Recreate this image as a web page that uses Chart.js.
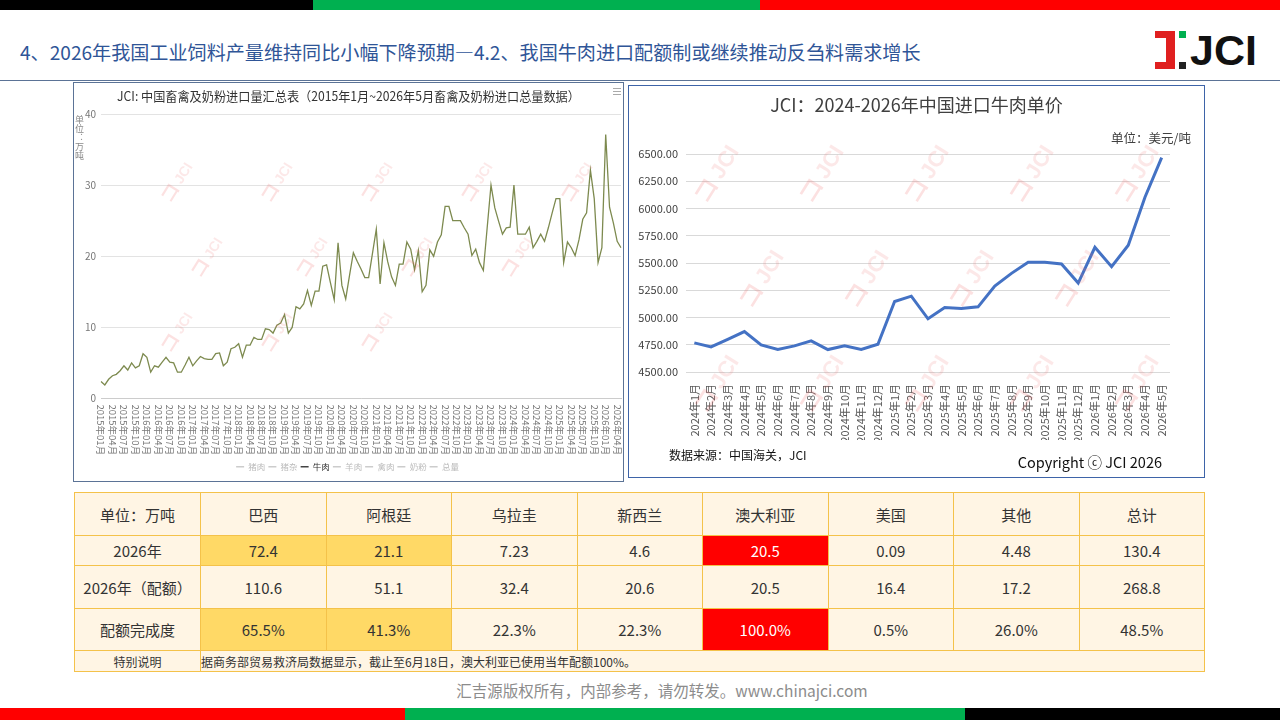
<!DOCTYPE html>
<html lang="zh">
<head>
<meta charset="UTF-8">
<title>牛肉进口配额</title>
<script src="https://cdn.jsdelivr.net/npm/chart.js"></script>
<style>
  body { margin:0; width:1280px; height:720px; position:relative; overflow:hidden; background:#fff;
         font-family:"Noto Sans CJK SC", sans-serif; }
  .abs { position:absolute; }
  .panel { position:absolute; box-sizing:border-box; }
  .wm { position:absolute; font-family:"Liberation Sans",sans-serif; font-size:22px; font-weight:bold;
        color:rgba(235,110,110,0.16); transform:rotate(-58deg); pointer-events:none; white-space:nowrap; }
  .wm b { color:rgba(240,90,90,0.18); font-size:26px; margin-right:2px; }
  .wm.small { font-size:14px; }
  .wm.small b { font-size:20px; }
  #quota { position:absolute; left:74px; top:492px; width:1131px; border-collapse:collapse; table-layout:fixed;
           font-size:15px; color:#333; }
  #quota td { border:1px solid #F4C24A; background:#FFF5E4; text-align:center; padding:0; white-space:nowrap; }
  #quota td.gold { background:#FFD966; }
  #quota td.red { background:#FF0000; color:#fff; }
  #quota tr.note td { font-size:12px; }
</style>
</head>
<body>
<!-- top / bottom colour bars -->
<div class="abs" style="left:0;top:0;width:313px;height:10px;background:#000"></div>
<div class="abs" style="left:313px;top:0;width:447px;height:10px;background:#00B050"></div>
<div class="abs" style="left:760px;top:0;width:520px;height:10px;background:#FF0000"></div>
<div class="abs" style="left:0;top:708px;width:405px;height:12px;background:#FF0000"></div>
<div class="abs" style="left:405px;top:708px;width:560px;height:12px;background:#00B050"></div>
<div class="abs" style="left:965px;top:708px;width:315px;height:12px;background:#000"></div>

<div class="abs" style="left:20px;top:40px;font-size:19.1px;line-height:24px;color:#2F5597;white-space:nowrap">4、2026年我国工业饲料产量维持同比小幅下降预期—4.2、我国牛肉进口配额制或继续推动反刍料需求增长</div>
<div class="abs" style="left:0;top:80px;width:1280px;height:1px;background:#5B7396"></div>

<!-- logo -->
<div class="abs" style="left:1155px;top:31px;width:20px;height:7px;background:#E02020"></div>
<div class="abs" style="left:1166px;top:31px;width:9px;height:38px;background:#E02020"></div>
<div class="abs" style="left:1155px;top:62px;width:20px;height:7px;background:#E02020"></div>
<div class="abs" style="left:1179px;top:31px;width:7px;height:7px;background:#00B050"></div>
<div class="abs" style="left:1179px;top:62px;width:7px;height:7px;background:#222"></div>
<div class="abs" style="left:1190px;top:26px;font-family:'Liberation Sans',sans-serif;font-weight:bold;font-size:43px;line-height:48px;color:#111">JCI</div>

<!-- left panel -->
<div class="panel" style="left:73px;top:82px;width:551px;height:400px;border:1px solid #5B7396">
  <canvas id="importChart" width="549" height="398"></canvas>
  <div class="abs" style="left:0;top:4px;width:549px;text-align:center;font-size:12.8px;line-height:18px;color:#333;white-space:nowrap;transform:scaleX(0.95)">JCI: 中国畜禽及奶粉进口量汇总表（2015年1月~2026年5月畜禽及奶粉进口总量数据）</div>
  <div class="abs" style="left:539px;top:5px;width:8px;height:1px;background:#aaa"></div>
  <div class="abs" style="left:539px;top:8px;width:8px;height:1px;background:#aaa"></div>
  <div class="abs" style="left:539px;top:11px;width:8px;height:1px;background:#aaa"></div>
  <div class="abs" style="left:0px;top:32px;writing-mode:vertical-rl;text-orientation:upright;font-size:9px;line-height:10px;color:#888">单位：万吨</div>
  <div class="wm small" style="left:80px;top:85px"><b>コ</b>JCI</div>
  <div class="wm small" style="left:180px;top:85px"><b>コ</b>JCI</div>
  <div class="wm small" style="left:280px;top:85px"><b>コ</b>JCI</div>
  <div class="wm small" style="left:380px;top:85px"><b>コ</b>JCI</div>
  <div class="wm small" style="left:480px;top:85px"><b>コ</b>JCI</div>
  <div class="wm small" style="left:110px;top:160px"><b>コ</b>JCI</div>
  <div class="wm small" style="left:215px;top:160px"><b>コ</b>JCI</div>
  <div class="wm small" style="left:320px;top:160px"><b>コ</b>JCI</div>
  <div class="wm small" style="left:420px;top:160px"><b>コ</b>JCI</div>
  <div class="wm small" style="left:80px;top:235px"><b>コ</b>JCI</div>
  <div class="wm small" style="left:180px;top:235px"><b>コ</b>JCI</div>
  <div class="wm small" style="left:280px;top:235px"><b>コ</b>JCI</div>
</div>

<!-- right panel -->
<div class="panel" style="left:628px;top:85px;width:577px;height:393px;border:1px solid #3E64A8">
  <canvas id="priceChart" width="575" height="391"></canvas>
  <div class="abs" style="left:0;top:6px;width:575px;text-align:center;font-size:18px;line-height:24px;color:#404040">JCI：2024-2026年中国进口牛肉单价</div>
  <div class="abs" style="right:13px;top:43px;font-size:12.5px;line-height:18px;color:#404040">单位：美元/吨</div>
  <div class="abs" style="left:40px;top:360px;font-size:12px;line-height:18px;color:#111">数据来源：中国海关，JCI</div>
  <div class="abs" style="right:42px;top:366px;font-size:14.5px;line-height:20px;color:#111">Copyright ⓒ JCI 2026</div>
  <div class="wm" style="left:55px;top:70px"><b>コ</b>JCI</div>
  <div class="wm" style="left:160px;top:70px"><b>コ</b>JCI</div>
  <div class="wm" style="left:265px;top:70px"><b>コ</b>JCI</div>
  <div class="wm" style="left:370px;top:70px"><b>コ</b>JCI</div>
  <div class="wm" style="left:475px;top:70px"><b>コ</b>JCI</div>
  <div class="wm" style="left:100px;top:175px"><b>コ</b>JCI</div>
  <div class="wm" style="left:205px;top:175px"><b>コ</b>JCI</div>
  <div class="wm" style="left:310px;top:175px"><b>コ</b>JCI</div>
  <div class="wm" style="left:415px;top:175px"><b>コ</b>JCI</div>
  <div class="wm" style="left:55px;top:280px"><b>コ</b>JCI</div>
  <div class="wm" style="left:160px;top:280px"><b>コ</b>JCI</div>
  <div class="wm" style="left:265px;top:280px"><b>コ</b>JCI</div>
  <div class="wm" style="left:370px;top:280px"><b>コ</b>JCI</div>
  <div class="wm" style="left:475px;top:280px"><b>コ</b>JCI</div>
</div>

<table id="quota"></table>

<div class="abs" style="left:0;top:679px;width:1324px;text-align:center;font-size:15.5px;line-height:22px;color:#8C8C8C">汇吉源版权所有，内部参考，请勿转发。www.chinajci.com</div>

<script>
// 左图：牛肉月度进口量（万吨），2015年1月 ~ 2026年5月
const beefImports = [
  2.4, 1.9, 2.7, 3.2, 3.4, 3.9, 4.6, 4.0, 5.0, 4.3, 4.6, 6.3,
  5.8, 3.7, 4.6, 4.4, 5.1, 5.8, 5.1, 5.0, 3.7, 3.7, 4.7, 5.8,
  4.6, 5.3, 5.9, 5.6, 5.5, 5.5, 6.3, 6.4, 4.6, 5.1, 7.0, 7.2,
  7.7, 5.8, 7.5, 7.5, 8.6, 8.3, 8.3, 9.8, 9.7, 9.2, 10.3, 10.6,
  11.8, 9.2, 10.0, 12.9, 12.6, 13.3, 15.2, 13.1, 15.1, 15.1, 18.6, 18.8,
  16.3, 13.9, 21.9, 15.9, 14.0, 17.3, 20.5, 19.3, 18.2, 17.0, 17.0, 20.4,
  23.8, 16.1, 21.9, 19.2, 17.1, 15.9, 18.9, 18.9, 22.0, 21.0, 18.1, 20.8,
  15.0, 15.9, 20.9, 20.0, 22.0, 23.0, 27.0, 27.0, 25.0, 25.0, 25.0, 24.0,
  23.1, 20.1, 21.0, 19.1, 18.0, 24.0, 30.0, 26.8, 24.9, 23.1, 24.0, 24.1,
  30.0, 23.1, 23.1, 23.1, 24.1, 21.2, 22.1, 23.1, 22.1, 24.0, 26.1, 28.1,
  28.1, 19.1, 22.0, 21.2, 20.1, 22.3, 25.2, 26.1, 32.1, 28.1, 19.1, 21.2,
  37.1, 26.9, 24.7, 22.1, 21.2
];
const legendNames = ['猪肉', '猪杂', '牛肉', '羊肉', '禽肉', '奶粉', '总量'];
const activeSeries = 2;

const monthLabels = [];
for (let y = 2015; y <= 2026; y++) {
  for (let m = 1; m <= 12; m++) {
    if (y === 2026 && m > 5) break;
    monthLabels.push(y + '年' + String(m).padStart(2, '0') + '月');
  }
}

// 右图：进口牛肉单价（美元/吨）
const priceMonths = [
  '2024年1月', '2024年2月', '2024年3月', '2024年4月', '2024年5月', '2024年6月',
  '2024年7月', '2024年8月', '2024年9月', '2024年10月', '2024年11月', '2024年12月',
  '2025年1月', '2025年2月', '2025年3月', '2025年4月', '2025年5月', '2025年6月',
  '2025年7月', '2025年8月', '2025年9月', '2025年10月', '2025年11月', '2025年12月',
  '2026年1月', '2026年2月', '2026年3月', '2026年4月', '2026年5月'
];
const beefPrice = [
  4767, 4730, 4800, 4871, 4749, 4706, 4740, 4786, 4706, 4740, 4706, 4755,
  5147, 5196, 4988, 5092, 5083, 5098, 5288, 5405, 5506, 5506, 5491, 5316,
  5644, 5466, 5663, 6104, 6466
];

// 表格：2026年牛肉进口配额
const quotaCountries = ['巴西', '阿根廷', '乌拉圭', '新西兰', '澳大利亚', '美国', '其他', '总计'];
const imports2026 = ['72.4', '21.1', '7.23', '4.6', '20.5', '0.09', '4.48', '130.4'];
const quota2026 = ['110.6', '51.1', '32.4', '20.6', '20.5', '16.4', '17.2', '268.8'];
const quotaUsed = ['65.5%', '41.3%', '22.3%', '22.3%', '100.0%', '0.5%', '26.0%', '48.5%'];
const noteText = '据商务部贸易救济局数据显示，截止至6月18日，澳大利亚已使用当年配额100%。';

Chart.defaults.font.family = '"Noto Sans CJK SC", sans-serif';

const oliveLine = '#7D8A4F';

// 左图 x 轴标签：每三个月一个，竖排自上而下
const verticalMonthTicks = {
  id: 'verticalMonthTicks',
  afterDraw(chart) {
    const xs = chart.scales.x;
    const ctx = chart.ctx;
    ctx.save();
    ctx.font = '9.5px "Noto Sans CJK SC"';
    ctx.fillStyle = '#777';
    ctx.textAlign = 'left';
    ctx.textBaseline = 'middle';
    for (let i = 0; i < monthLabels.length; i += 3) {
      ctx.save();
      ctx.translate(xs.getPixelForValue(i), xs.top + 6);
      ctx.rotate(Math.PI / 2);
      ctx.fillText(monthLabels[i], 0, 0);
      ctx.restore();
    }
    ctx.restore();
  }
};

new Chart(document.getElementById('importChart'), {
  type: 'line',
  data: {
    labels: monthLabels,
    datasets: [{
      label: legendNames[activeSeries],
      data: beefImports,
      borderColor: oliveLine,
      borderWidth: 1.3,
      pointRadius: 0,
      tension: 0
    }]
  },
  options: {
    responsive: false,
    animation: false,
    layout: { padding: { top: 31, right: 2, bottom: 0, left: 0 } },
    plugins: {
      tooltip: { enabled: false },
      legend: {
        position: 'bottom',
        onClick: null,
        labels: {
          usePointStyle: true,
          pointStyleWidth: 8,
          padding: 3,
          font: { size: 8.5 },
          generateLabels: () => legendNames.map((name, i) => ({
            text: name,
            fillStyle: i === activeSeries ? '#444' : '#ccc',
            strokeStyle: i === activeSeries ? '#444' : '#ccc',
            fontColor: i === activeSeries ? '#333' : '#bbb',
            lineWidth: 1.5,
            pointStyle: 'line',
            hidden: false,
            datasetIndex: 0
          }))
        }
      }
    },
    scales: {
      x: {
        ticks: { display: false },
        grid: { display: false },
        border: { color: '#ccc' },
        afterFit(scale) { scale.height = 61; }
      },
      y: {
        min: 0,
        max: 40,
        ticks: { stepSize: 10, color: '#777', font: { size: 10 }, padding: 5 },
        grid: { color: '#e3e3e3', drawTicks: false },
        border: { display: false },
        afterFit(scale) { scale.width = 27; }
      }
    }
  },
  plugins: [verticalMonthTicks]
});

new Chart(document.getElementById('priceChart'), {
  type: 'line',
  data: {
    labels: priceMonths,
    datasets: [{
      data: beefPrice,
      borderColor: '#4472C4',
      borderWidth: 3,
      pointRadius: 0,
      tension: 0
    }]
  },
  options: {
    responsive: false,
    animation: false,
    layout: { padding: { top: 68, right: 34, bottom: 37, left: 0 } },
    plugins: { legend: { display: false }, tooltip: { enabled: false } },
    scales: {
      x: {
        offset: true,
        grid: { display: false },
        border: { display: false },
        ticks: { autoSkip: false, minRotation: 90, maxRotation: 90, color: '#595959', font: { size: 11 }, padding: 4 },
        afterFit(scale) { scale.height = 68; }
      },
      y: {
        min: 4500,
        max: 6500,
        ticks: { stepSize: 250, color: '#404040', font: { size: 11 }, padding: 8, callback: v => v.toFixed(2) },
        grid: { color: '#d9d9d9', drawTicks: false },
        border: { display: false },
        afterFit(scale) { scale.width = 57; }
      }
    }
  }
});

// 配额表
const table = document.getElementById('quota');
const colg = document.createElement('colgroup');
colg.innerHTML = '<col style="width:126px">' + quotaCountries.map(() => '<col>').join('');
table.appendChild(colg);

function addRow(head, cells, height, cls) {
  const tr = table.insertRow();
  tr.style.height = height + 'px';
  const th = tr.insertCell();
  th.textContent = head;
  cells.forEach((c, i) => {
    const td = tr.insertCell();
    td.textContent = c;
    if (cls && cls[i]) td.className = cls[i];
  });
  return tr;
}
const mark = ['gold', 'gold', '', '', 'red', '', '', ''];
addRow('单位：万吨', quotaCountries, 43);
addRow('2026年', imports2026, 30, mark);
addRow('2026年（配额）', quota2026, 43);
addRow('配额完成度', quotaUsed, 42, mark);
const noteRow = table.insertRow();
noteRow.className = 'note';
noteRow.style.height = '21px';
noteRow.insertCell().textContent = '特别说明';
const noteCell = noteRow.insertCell();
noteCell.colSpan = quotaCountries.length;
noteCell.style.textAlign = 'left';
noteCell.textContent = noteText;
</script>
</body>
</html>
